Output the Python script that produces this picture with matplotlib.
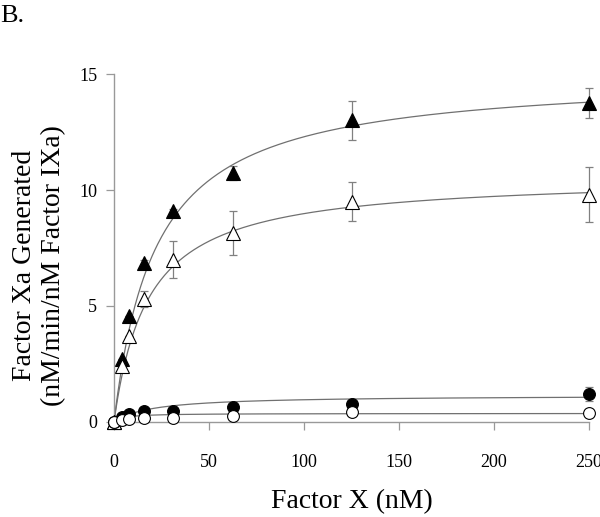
import numpy as np
import matplotlib
matplotlib.use('Agg')
import matplotlib.pyplot as plt

plt.rcParams['font.family'] = ['Liberation Serif', 'DejaVu Serif']

# Factor X concentrations (nM)
factor_x = [0, 4, 8, 16, 31.25, 62.5, 125, 250]

# Factor Xa generated (nM/min/nM Factor IXa)
tri_filled = [0, 2.7, 4.55, 6.85, 9.1, 10.75, 13.0, 13.75]
tri_filled_err = [0, 0, 0, 0.15, 0.1, 0.3, 0.85, 0.65]
tri_open = [0, 2.4, 3.7, 5.3, 7.0, 8.15, 9.5, 9.8]
tri_open_err = [0, 0, 0, 0.35, 0.8, 0.95, 0.85, 1.2]
circ_filled = [0, 0.2, 0.33, 0.47, 0.47, 0.66, 0.78, 1.2]
circ_filled_err = [0, 0, 0, 0, 0, 0, 0, 0.3]
circ_open = [0, 0.08, 0.12, 0.15, 0.17, 0.25, 0.43, 0.37]
circ_open_err = [0, 0, 0, 0, 0, 0, 0, 0.05]

# Michaelis-Menten fit parameters (Vmax, Km) for each series
fits = {'tri_filled': (15.0, 22.0), 'tri_open': (10.6, 18.0),
        'circ_filled': (1.15, 20.0), 'circ_open': (0.37, 5.0)}

fig = plt.figure(figsize=(6.0, 5.17), dpi=100)
ax = fig.add_axes([0.19, 0.1838, 0.7917, 0.673])

xfit = np.linspace(0, 250, 500)
for key in ['tri_filled', 'tri_open', 'circ_filled', 'circ_open']:
    vmax, km = fits[key]
    ax.plot(xfit, vmax * xfit / (km + xfit), color='#707070', lw=0.9, zorder=2)

series = [
    (tri_filled, tri_filled_err, '^', 'black', 9.5),
    (tri_open, tri_open_err, '^', 'white', 9.5),
    (circ_filled, circ_filled_err, 'o', 'black', 8.5),
    (circ_open, circ_open_err, 'o', 'white', 8.5),
]
for y, err, mk, fc, ms in series:
    ax.errorbar(factor_x, y, yerr=err, fmt='none', ecolor='#808080',
                elinewidth=0.9, capsize=3, capthick=0.9, zorder=3, clip_on=False)
    ax.plot(factor_x, y, ls='none', marker=mk, ms=ms, mfc=fc, mec='black',
            mew=0.8, zorder=4, clip_on=False)

ax.set_xlim(0, 250)
ax.set_ylim(0, 15)
ax.set_xticks([0, 50, 100, 150, 200, 250])
ax.set_yticks([0, 5, 10, 15])
for s in ['top', 'right']:
    ax.spines[s].set_visible(False)
for s in ['left', 'bottom']:
    ax.spines[s].set_color('#999999')
    ax.spines[s].set_linewidth(1.0)
ax.tick_params(axis='both', direction='out', length=6, width=0.9,
               color='#999999', labelsize=13)
ax.tick_params(axis='x', pad=17)
ax.tick_params(axis='y', pad=6)

ax.set_xlabel('Factor X (nM)', fontsize=20, labelpad=13)
ax.set_ylabel('Factor Xa Generated\n(nM/min/nM Factor IXa)', fontsize=20,
              linespacing=1.25)
ax.yaxis.set_label_coords(-0.1, 0.45)

fig.text(0.0, 0.99, 'B.', fontsize=19, ha='left', va='top')

fig.savefig('out.png', dpi=100)
